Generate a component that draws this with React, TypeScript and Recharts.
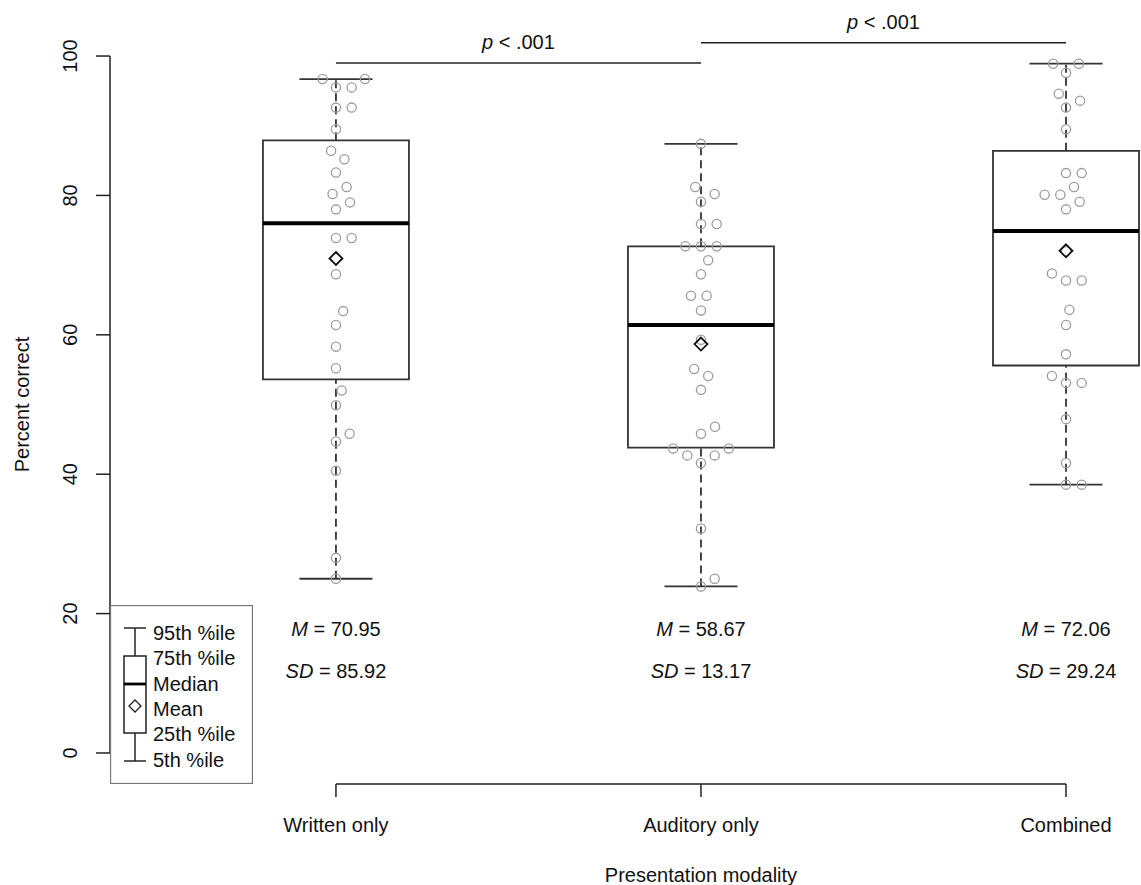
import React from "react";
import {
  ComposedChart,
  XAxis,
  YAxis,
  Scatter,
  ReferenceArea,
  ReferenceLine,
  ReferenceDot,
  Legend,
} from "recharts";

// --- data ---
const categories = ["Written only", "Auditory only", "Combined"];

const writtenScores = [
  96.7, 96.7, 95.5, 95.5, 92.6, 92.6, 89.5, 86.4, 85.2, 83.3, 81.2, 80.2, 79.0, 78.0,
  73.9, 73.9, 68.7, 63.4, 61.4, 58.3, 55.2, 52.0, 49.9, 45.8, 44.7, 40.5, 28.0, 25.0,
];
const auditoryScores = [
  87.4, 81.2, 80.2, 79.1, 75.9, 75.9, 72.7, 72.7, 72.7, 70.7, 68.7, 65.6, 65.6, 63.5,
  59.3, 55.1, 54.1, 52.1, 46.8, 45.8, 43.7, 43.7, 42.7, 42.7, 41.6, 32.2, 25.0, 23.9,
];
const combinedScores = [
  98.9, 98.9, 97.6, 94.6, 93.6, 92.6, 89.5, 83.2, 83.2, 81.2, 80.1, 80.1, 79.1, 78.0,
  72.0, 68.8, 67.8, 67.8, 63.6, 61.4, 57.2, 54.1, 53.1, 53.1, 47.9, 41.6, 38.5, 38.5,
];

const whiskerLow = [25.0, 23.9, 38.5];
const quartile1 = [53.6, 43.8, 55.6];
const medians = [76.0, 61.4, 74.9];
const quartile3 = [87.9, 72.7, 86.4];
const whiskerHigh = [96.7, 87.4, 98.9];
const means = [70.95, 58.67, 72.06];
const sds = [85.92, 13.17, 29.24];

const yTicks = [0, 20, 40, 60, 80, 100];

const compareFrom = [1, 2];
const compareTo = [2, 3];
const compareLevel = [99.0, 101.9];
const compareText = ["< .001", "< .001"];

const legendLabels = ["95th %ile", "75th %ile", "Median", "Mean", "25th %ile", "5th %ile"];

// --- layout ---
const W = 1141;
const H = 885;
const AXIS_W = 110;
const X_AXIS_H = 101;
const RIGHT = 2;
const X_MIN = 0.381;
const X_MAX = 3.2;
const Y_MIN = -4.45;
const Y_MAX = 108.04;
const PX_X = (W - AXIS_W - RIGHT) / (X_MAX - X_MIN);
const PX_Y = (H - X_AXIS_H) / (Y_MAX - Y_MIN);
const BOX_HALF = 0.2;
const CAP_HALF = 0.1;
const M_ROW = 17.8;
const SD_ROW = 11.8;
const FONT = 20;
const INK = "#222";

// beeswarm-style offsets (ascending order, nearest free slot to the centre)
function swarmOffsets(values: number[]): number[] {
  const D = 15.7;
  const order = values.map((_, i) => i).sort((a, b) => values[a] - values[b]);
  const placed: { x: number; y: number }[] = [];
  const out: number[] = new Array(values.length).fill(0);
  for (const i of order) {
    const y = values[i] * PX_Y;
    const near = placed.filter((p) => Math.abs(p.y - y) < D);
    const cands = [0];
    near.forEach((p) => {
      const w = Math.sqrt(D * D - (p.y - y) ** 2);
      cands.push(p.x + w, p.x - w);
    });
    const ok = cands.filter((c) =>
      near.every((p) => (c - p.x) ** 2 + (p.y - y) ** 2 >= D * D - 1e-6)
    );
    ok.sort((a, b) => {
      const d = Math.abs(a) - Math.abs(b);
      return Math.abs(d) > 1e-6 ? d : b - a;
    });
    const x = ok[0];
    placed.push({ x, y });
    out[i] = x / PX_X;
  }
  return out;
}

const groups = [writtenScores, auditoryScores, combinedScores];
const pointData = groups.flatMap((vals, i) => {
  const offs = swarmOffsets(vals);
  return vals.map((v, j) => ({ x: i + 1 + offs[j], y: v }));
});
const meanData = means.map((m, i) => ({ x: i + 1, y: m }));
const mRowData = means.map((m, i) => ({ x: i + 1, y: M_ROW, value: m }));
const sdRowData = sds.map((s, i) => ({ x: i + 1, y: SD_ROW, value: s }));
const compareData = compareFrom.map((f, i) => ({
  x: (f + compareTo[i]) / 2,
  y: compareLevel[i],
  text: compareText[i],
}));

const YTick = ({ x, y, payload }: any) => {
  const cx = x - 24;
  return (
    <text
      x={cx}
      y={y}
      transform={`rotate(-90 ${cx} ${y})`}
      textAnchor="middle"
      dominantBaseline="central"
      fontSize={FONT}
      fill="#111"
    >
      {payload.value}
    </text>
  );
};

const XTick = ({ x, y, payload }: any) => (
  <text x={x} y={y + 26} textAnchor="middle" dominantBaseline="central" fontSize={FONT} fill="#111">
    {categories[payload.value - 1]}
  </text>
);

const LegendBox = () => {
  const rows = [28, 53, 79, 104, 129, 155];
  return (
    <svg width={143} height={179} style={{ display: "block" }}>
      <rect x={0.5} y={0.5} width={142} height={178} fill="#fff" stroke="#777" strokeWidth={1.3} />
      <line x1={25} x2={25} y1={23} y2={156} stroke={INK} strokeWidth={1.5} />
      <line x1={14} x2={36} y1={23} y2={23} stroke={INK} strokeWidth={1.5} />
      <line x1={14} x2={36} y1={156} y2={156} stroke={INK} strokeWidth={1.5} />
      <rect x={14} y={51} width={22} height={77} fill="#fff" stroke={INK} strokeWidth={1.5} />
      <line x1={14} x2={36} y1={79} y2={79} stroke="#000" strokeWidth={2.8} />
      <path d="M25,95 L31,101 L25,107 L19,101 Z" fill="#fff" stroke={INK} strokeWidth={1.3} />
      {legendLabels.map((t, i) => (
        <text key={t} x={43} y={rows[i]} dominantBaseline="central" fontSize={FONT} fill="#111">
          {t}
        </text>
      ))}
    </svg>
  );
};

export default function App() {
  return (
    <div
      style={{
        position: "absolute",
        left: 0,
        top: 0,
        width: W,
        height: H,
        background: "#fff",
        fontFamily: "'Liberation Sans', Arial, Helvetica, sans-serif",
      }}
    >
      <ComposedChart width={W} height={H} margin={{ top: 0, right: RIGHT, bottom: 0, left: 0 }}>
        <XAxis
          type="number"
          dataKey="x"
          domain={[X_MIN, X_MAX]}
          allowDataOverflow
          ticks={[1, 2, 3]}
          height={X_AXIS_H}
          axisLine={false}
          tickSize={13}
          stroke={INK}
          tickLine={{ stroke: INK, strokeWidth: 1.5 }}
          tick={<XTick />}
          interval={0}
        />
        <YAxis
          type="number"
          dataKey="y"
          domain={[Y_MIN, Y_MAX]}
          allowDataOverflow
          ticks={yTicks}
          width={AXIS_W}
          axisLine={false}
          tickSize={14}
          stroke={INK}
          tickLine={{ stroke: INK, strokeWidth: 1.5 }}
          tick={<YTick />}
          interval={0}
        />

        {/* axis lines (R style: only across the tick range) */}
        <ReferenceLine
          segment={[{ x: X_MIN, y: yTicks[0] }, { x: X_MIN, y: yTicks[yTicks.length - 1] }]}
          stroke={INK}
          strokeWidth={1.5}
          ifOverflow="visible"
        />
        <ReferenceLine
          segment={[{ x: 1, y: Y_MIN }, { x: categories.length, y: Y_MIN }]}
          stroke={INK}
          strokeWidth={1.5}
          ifOverflow="visible"
        />

        {/* boxes */}
        {categories.map((c, i) => (
          <ReferenceArea
            key={`box-${c}`}
            x1={i + 1 - BOX_HALF}
            x2={i + 1 + BOX_HALF}
            y1={quartile1[i]}
            y2={quartile3[i]}
            fill="none"
            fillOpacity={0}
            stroke="#333"
            strokeWidth={1.8}
            ifOverflow="visible"
          />
        ))}
        {categories.map((c, i) => (
          <ReferenceLine
            key={`wh-${c}`}
            segment={[{ x: i + 1, y: quartile3[i] }, { x: i + 1, y: whiskerHigh[i] }]}
            stroke="#333"
            strokeWidth={1.8}
            strokeDasharray="8 5"
            ifOverflow="visible"
          />
        ))}
        {categories.map((c, i) => (
          <ReferenceLine
            key={`wl-${c}`}
            segment={[{ x: i + 1, y: whiskerLow[i] }, { x: i + 1, y: quartile1[i] }]}
            stroke="#333"
            strokeWidth={1.8}
            strokeDasharray="8 5"
            ifOverflow="visible"
          />
        ))}
        {categories.map((c, i) => (
          <ReferenceLine
            key={`ch-${c}`}
            segment={[{ x: i + 1 - CAP_HALF, y: whiskerHigh[i] }, { x: i + 1 + CAP_HALF, y: whiskerHigh[i] }]}
            stroke="#333"
            strokeWidth={1.8}
            ifOverflow="visible"
          />
        ))}
        {categories.map((c, i) => (
          <ReferenceLine
            key={`cl-${c}`}
            segment={[{ x: i + 1 - CAP_HALF, y: whiskerLow[i] }, { x: i + 1 + CAP_HALF, y: whiskerLow[i] }]}
            stroke="#333"
            strokeWidth={1.8}
            ifOverflow="visible"
          />
        ))}
        {categories.map((c, i) => (
          <ReferenceLine
            key={`md-${c}`}
            segment={[{ x: i + 1 - BOX_HALF, y: medians[i] }, { x: i + 1 + BOX_HALF, y: medians[i] }]}
            stroke="#000"
            strokeWidth={4}
            ifOverflow="visible"
          />
        ))}

        {/* significance brackets */}
        {compareFrom.map((f, i) => (
          <ReferenceLine
            key={`cmp-${i}`}
            segment={[{ x: f, y: compareLevel[i] }, { x: compareTo[i], y: compareLevel[i] }]}
            stroke={INK}
            strokeWidth={1.5}
            ifOverflow="visible"
          />
        ))}

        <Scatter
          data={pointData}
          isAnimationActive={false}
          legendType="none"
          shape={(p: any) => (
            <circle cx={p.cx} cy={p.cy} r={4.6} fill="none" stroke="#9c9c9c" strokeWidth={1.3} />
          )}
        />
        <Scatter
          data={meanData}
          isAnimationActive={false}
          legendType="none"
          shape={(p: any) => (
            <path
              d={`M${p.cx},${p.cy - 6.5} L${p.cx + 6.5},${p.cy} L${p.cx},${p.cy + 6.5} L${p.cx - 6.5},${p.cy} Z`}
              fill="none"
              stroke="#111"
              strokeWidth={1.8}
            />
          )}
        />
        <Scatter
          data={mRowData}
          isAnimationActive={false}
          legendType="none"
          shape={(p: any) => (
            <text x={p.cx} y={p.cy} textAnchor="middle" dominantBaseline="central" fontSize={FONT} fill="#111">
              <tspan fontStyle="italic">M</tspan> = {p.payload.value.toFixed(2)}
            </text>
          )}
        />
        <Scatter
          data={sdRowData}
          isAnimationActive={false}
          legendType="none"
          shape={(p: any) => (
            <text x={p.cx} y={p.cy} textAnchor="middle" dominantBaseline="central" fontSize={FONT} fill="#111">
              <tspan fontStyle="italic">SD</tspan> = {p.payload.value.toFixed(2)}
            </text>
          )}
        />
        <Scatter
          data={compareData}
          isAnimationActive={false}
          legendType="none"
          shape={(p: any) => (
            <text x={p.cx} y={p.cy - 21} textAnchor="middle" dominantBaseline="central" fontSize={FONT} fill="#111">
              <tspan fontStyle="italic">p</tspan> {p.payload.text}
            </text>
          )}
        />

        {/* axis titles */}
        <ReferenceDot
          x={0.14}
          y={50}
          r={0}
          ifOverflow="visible"
          shape={(p: any) => (
            <text
              x={p.cx}
              y={p.cy}
              transform={`rotate(-90 ${p.cx} ${p.cy})`}
              textAnchor="middle"
              dominantBaseline="central"
              fontSize={FONT}
              fill="#111"
            >
              Percent correct
            </text>
          )}
        />
        <ReferenceDot
          x={2}
          y={-17.5}
          r={0}
          ifOverflow="visible"
          shape={(p: any) => (
            <text x={p.cx} y={p.cy} textAnchor="middle" dominantBaseline="central" fontSize={FONT} fill="#111">
              Presentation modality
            </text>
          )}
        />

        <Legend
          layout="vertical"
          align="center"
          verticalAlign="middle"
          wrapperStyle={{ left: AXIS_W, top: 605, width: 143, height: 179 }}
          content={() => <LegendBox />}
        />
      </ComposedChart>
    </div>
  );
}
